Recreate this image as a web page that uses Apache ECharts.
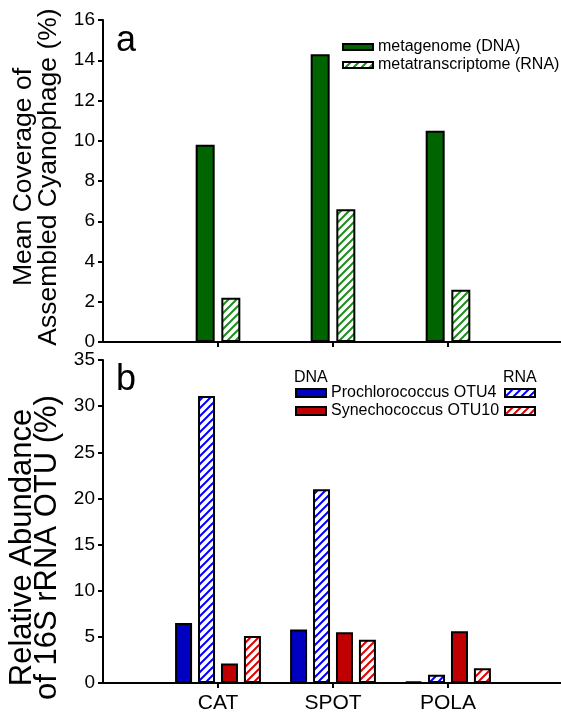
<!DOCTYPE html>
<html>
<head>
<meta charset="utf-8">
<script src="https://cdn.jsdelivr.net/npm/echarts@6/dist/echarts.min.js"></script>
<style>
html,body{margin:0;padding:0;background:#fff;}
#main{width:561px;height:712px;}
</style>
</head>
<body>
<div id="main"></div>
<script>
// ---- data ----
const categories = ['', 'CAT', 'SPOT', 'POLA', ''];
const phageDNA = [null, 9.8, 14.3, 10.5, null];
const phageRNA = [null, 2.2, 6.6, 2.6, null];
const proDNA = [null, 6.5, 5.8, 0.15, null];
const proRNA = [null, 31.1, 21.0, 0.9, null];
const synDNA = [null, 2.1, 5.5, 5.6, null];
const synRNA = [null, 5.1, 4.7, 1.6, null];
const topTicks = {min: 0, max: 16, interval: 2};
const botTicks = {min: 0, max: 35, interval: 5};

// ---- styles ----
const FONT = 'Liberation Sans, Arial, Helvetica, sans-serif';
function hatch(color) {
  const c = document.createElement('canvas');
  const s = 8;
  c.width = s; c.height = s;
  const ctx = c.getContext('2d');
  ctx.fillStyle = '#fff';
  ctx.fillRect(0, 0, s, s);
  ctx.strokeStyle = color;
  ctx.lineWidth = 2;
  ctx.beginPath();
  ctx.moveTo(-1, s + 1); ctx.lineTo(s + 1, -1);
  ctx.moveTo(-3, 3); ctx.lineTo(3, -3);
  ctx.moveTo(s - 3, s + 3); ctx.lineTo(s + 3, s - 3);
  ctx.stroke();
  return {image: c, repeat: 'repeat'};
}
const green = '#006400', blue = '#0000c0', red = '#c00000';
const border = {borderColor: '#000', borderWidth: 2};

const chart = echarts.init(document.getElementById('main'), null, {renderer: 'canvas'});

function xAxis(gridIndex, showLabels) {
  return {
    type: 'category', gridIndex, data: categories, boundaryGap: false,
    axisLine: {show: true, lineStyle: {color: '#000', width: 2}},
    axisTick: {show: true, inside: false, length: 5, lineStyle: {color: '#000', width: 2},
      interval: (i) => i >= 1 && i <= 3, alignWithLabel: true},
    axisLabel: {show: showLabels, color: '#000', fontSize: 21, fontFamily: FONT, margin: 10,
      interval: 0},
    splitLine: {show: false}
  };
}
function yAxis(gridIndex, ticks, name, nameSize, padding) {
  return {
    type: 'value', gridIndex, min: ticks.min, max: ticks.max, interval: ticks.interval,
    name, nameLocation: 'middle', nameGap: 42,
    nameTextStyle: {color: '#000', fontSize: nameSize, fontFamily: FONT, lineHeight: 25, padding},
    axisLine: {show: true, lineStyle: {color: '#000', width: 2}},
    axisTick: {show: true, inside: false, length: 5, lineStyle: {color: '#000', width: 2}},
    axisLabel: {color: '#000', fontSize: 19, fontFamily: FONT, margin: 8},
    splitLine: {show: false}
  };
}

const option = {
  backgroundColor: '#fff',
  animation: false,
  grid: [
    {left: 103, top: 20, width: 460, height: 322, outerBoundsMode: 'none', containLabel: false},
    {left: 103, top: 360, width: 460, height: 323, outerBoundsMode: 'none', containLabel: false}
  ],
  xAxis: [xAxis(0, false), xAxis(1, true)],
  yAxis: [
    yAxis(0, topTicks, 'Mean Coverage of\nAssembled Cyanophage (%)', 26.5, [0, 0, 0, 8]),
    yAxis(1, botTicks, 'Relative Abundance\nof 16S rRNA OTU (%)', 31, [0, 52, 0, 0])
  ],
  legend: [
    {left: 342, top: 39, orient: 'vertical', itemWidth: 30, itemHeight: 6, itemGap: 2,
      icon: 'rect', selectedMode: false, padding: 0,
      textStyle: {color: '#000', fontSize: 16, fontFamily: FONT, lineHeight: 14},
      data: ['metagenome (DNA)', 'metatranscriptome (RNA)']},
    {left: 295, top: 385, orient: 'vertical', itemWidth: 30, itemHeight: 8, itemGap: 2,
      icon: 'rect', selectedMode: false, padding: 0,
      textStyle: {color: '#000', fontSize: 16, fontFamily: FONT, lineHeight: 15},
      formatter: (n) => n.replace(' (DNA)', ''),
      data: ['Prochlorococcus OTU4 (DNA)', 'Synechococcus OTU10 (DNA)']},
    {left: 504, top: 385, orient: 'vertical', itemWidth: 30, itemHeight: 8, itemGap: 2,
      icon: 'rect', selectedMode: false, padding: 0,
      textStyle: {color: '#000', fontSize: 16, fontFamily: FONT, lineHeight: 15},
      formatter: () => ' ',
      data: ['Prochlorococcus OTU4 (RNA)', 'Synechococcus OTU10 (RNA)']}
  ],
  graphic: [
    {type: 'text', left: 116, top: 23, style: {text: 'a', font: '36px ' + FONT, fill: '#000'}},
    {type: 'text', left: 116, top: 362, style: {text: 'b', font: '36px ' + FONT, fill: '#000'}},
    {type: 'text', left: 294, top: 370, style: {text: 'DNA', font: '16px ' + FONT, fill: '#000'}},
    {type: 'text', left: 503, top: 370, style: {text: 'RNA', font: '16px ' + FONT, fill: '#000'}}
  ],
  series: [
    {name: 'metagenome (DNA)', type: 'bar', xAxisIndex: 0, yAxisIndex: 0, data: phageDNA,
      barWidth: 19, barGap: '35%', itemStyle: Object.assign({color: green}, border)},
    {name: 'metatranscriptome (RNA)', type: 'bar', xAxisIndex: 0, yAxisIndex: 0, data: phageRNA,
      barWidth: 19, barGap: '35%', itemStyle: Object.assign({color: hatch('#1e8c1e')}, border)},
    {name: 'Prochlorococcus OTU4 (DNA)', type: 'bar', xAxisIndex: 1, yAxisIndex: 1, data: proDNA,
      barWidth: 17, barGap: '35%', itemStyle: Object.assign({color: blue}, border)},
    {name: 'Prochlorococcus OTU4 (RNA)', type: 'bar', xAxisIndex: 1, yAxisIndex: 1, data: proRNA,
      barWidth: 17, barGap: '35%', itemStyle: Object.assign({color: hatch('#0000ff')}, border)},
    {name: 'Synechococcus OTU10 (DNA)', type: 'bar', xAxisIndex: 1, yAxisIndex: 1, data: synDNA,
      barWidth: 17, barGap: '35%', itemStyle: Object.assign({color: red}, border)},
    {name: 'Synechococcus OTU10 (RNA)', type: 'bar', xAxisIndex: 1, yAxisIndex: 1, data: synRNA,
      barWidth: 17, barGap: '35%', itemStyle: Object.assign({color: hatch('#e00000')}, border)}
  ]
};
chart.setOption(option);
</script>
</body>
</html>
